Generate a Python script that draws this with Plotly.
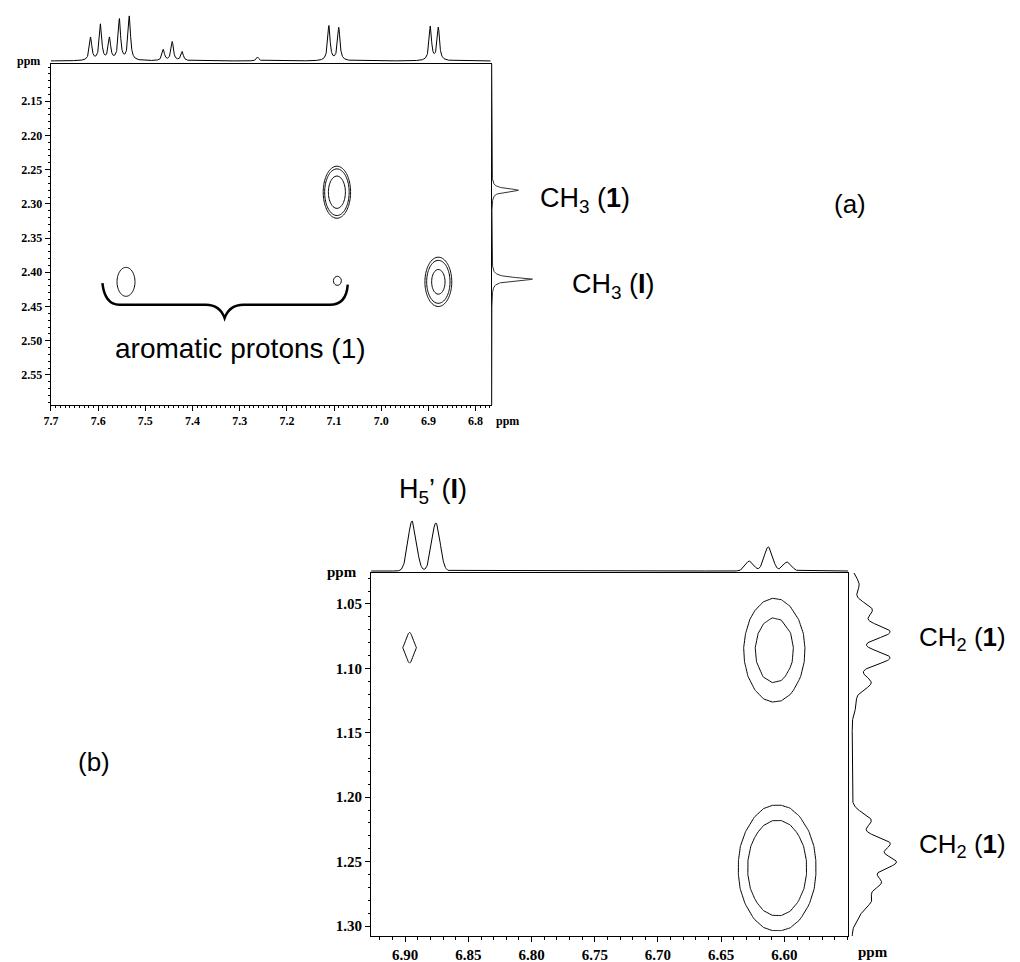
import numpy as np
import plotly.graph_objects as go

W, H = 1020, 962
OFF = 8  # page body margin added by the browser around the plot div

# ---------------- panel (a) data ----------------
A_TOP_PPM = [7.616, 7.595, 7.576, 7.555, 7.534, 7.462, 7.443, 7.422, 7.262, 7.111, 7.090, 6.896, 6.879]
A_TOP_INT = [23, 36, 22, 41, 44, 11, 19, 9, 4, 35, 33, 34, 33]
A_SIDE_PPM = [2.280, 2.410]
A_SIDE_INT = [27, 41]
A_CROSS_X = [7.094, 6.879, 7.541, 7.093]
A_CROSS_Y = [2.283, 2.414, 2.414, 2.4125]
A_CROSS_AMP = [3.09, 2.52, 1.15, 1.15]
A_CROSS_SX = [0.0193, 0.0209, 0.0360, 0.0159]
A_CROSS_SY = [0.0253, 0.0265, 0.0400, 0.0125]
A_LEVELS = [1.0, 1.25, 2.0]
A_XTICKS = [7.7, 7.6, 7.5, 7.4, 7.3, 7.2, 7.1, 7.0, 6.9, 6.8]
A_YTICKS = [2.15, 2.20, 2.25, 2.30, 2.35, 2.40, 2.45, 2.50, 2.55]

# ---------------- panel (b) data ----------------
B_TOP_PPM = [6.8945, 6.8757, 6.6276, 6.6127, 6.5978]
B_TOP_INT = [50, 48, 10, 24, 9]
B_SIDE_PPM = [1.035, 1.0546, 1.0717, 1.0918, 1.1111, 1.128, 1.218, 1.2357, 1.2505, 1.266, 1.280, 1.2915]
B_SIDE_INT = [7, 20, 38, 38, 19, 4, 19, 37, 43, 28, 18, 6]
B_CROSS_X = [6.8965, 6.608, 6.6057]
B_CROSS_Y = [1.084, 1.086, 1.255]
B_CROSS_AMP = [1.3, 3.17, 5.17]
B_CROSS_SX = [0.0083, 0.0158, 0.0169]
B_CROSS_SY = [0.0166, 0.0263, 0.0269]
B_LEVELS = [1.0, 2.0]
B_XTICKS = [6.90, 6.85, 6.80, 6.75, 6.70, 6.65, 6.60]
B_YTICKS = [1.05, 1.10, 1.15, 1.20, 1.25, 1.30]


def lorentz(axis, centers, heights, gamma):
    s = np.zeros_like(axis)
    for c, h in zip(centers, heights):
        s += h / (1.0 + ((axis - c) / gamma) ** 2)
    return s


def gauss(axis, centers, heights, sigma):
    s = np.zeros_like(axis)
    for c, h in zip(centers, heights):
        s += h * np.exp(-0.5 * ((axis - c) / sigma) ** 2)
    return s


def cross(gx, gy, xs, ys, amps, sxs, sys):
    X, Y = np.meshgrid(gx, gy)
    Z = np.zeros_like(X)
    for x0, y0, a, sx, sy in zip(xs, ys, amps, sxs, sys):
        Z += a * np.exp(-0.5 * ((X - x0) / sx) ** 2 - 0.5 * ((Y - y0) / sy) ** 2)
    return Z


def px(x):
    return (x - OFF) / W


def py(y):
    return 1 - (y - OFF) / H


fig = go.Figure()

# ---- (a) ranges ----
AX_RANGE = [7.7005, 6.768]
AY_RANGE = [2.594, 2.0956]

ax1 = np.arange(6.768, 7.7005, 0.0004)
fig.add_trace(go.Scatter(x=ax1, y=lorentz(ax1, A_TOP_PPM, A_TOP_INT, 0.0030),
                         mode="lines", line=dict(color="black", width=1),
                         xaxis="x2", yaxis="y2", hoverinfo="skip"))
ay1 = np.arange(2.0956, 2.594, 0.0003)
fig.add_trace(go.Scatter(x=lorentz(ay1, A_SIDE_PPM, A_SIDE_INT, 0.0028), y=ay1,
                         mode="lines", line=dict(color="#333333", width=1),
                         xaxis="x3", yaxis="y3", hoverinfo="skip"))
gxa = np.arange(6.80, 7.65, 0.002)
gya = np.arange(2.20, 2.50, 0.002)
Za = cross(gxa, gya, A_CROSS_X, A_CROSS_Y, A_CROSS_AMP, A_CROSS_SX, A_CROSS_SY)
for L in A_LEVELS:
    fig.add_trace(go.Contour(x=gxa, y=gya, z=Za, autocontour=False,
                             contours=dict(coloring="none", start=L, end=L, size=1),
                             line=dict(color="black", width=1, smoothing=1),
                             showscale=False, hoverinfo="skip", xaxis="x", yaxis="y"))

# ---- (b) ranges ----
BX_RANGE = [6.927, 6.5495]
BY_RANGE = [1.3077, 1.026]

bx1 = np.arange(6.5495, 6.927, 0.0003)
fig.add_trace(go.Scatter(x=bx1, y=gauss(bx1, B_TOP_PPM, B_TOP_INT, 0.0033),
                         mode="lines", line=dict(color="black", width=1),
                         xaxis="x5", yaxis="y5", hoverinfo="skip"))
by1 = np.arange(1.026, 1.3077, 0.0003)
fig.add_trace(go.Scatter(x=gauss(by1, B_SIDE_PPM, B_SIDE_INT, 0.0055), y=by1,
                         mode="lines", line=dict(color="black", width=1),
                         xaxis="x6", yaxis="y6", hoverinfo="skip"))
gxb = 6.8965 + 0.007 * np.arange(-48, 4)
gyb = 1.084 + 0.011 * np.arange(-5, 21)
Zb = cross(gxb, gyb, B_CROSS_X, B_CROSS_Y, B_CROSS_AMP, B_CROSS_SX, B_CROSS_SY)
for L in B_LEVELS:
    fig.add_trace(go.Contour(x=gxb, y=gyb, z=Zb, autocontour=False,
                             contours=dict(coloring="none", start=L, end=L, size=1),
                             line=dict(color="black", width=1, smoothing=0),
                             showscale=False, hoverinfo="skip", xaxis="x4", yaxis="y4"))

serif_a = dict(family="Liberation Serif", size=12, color="black", weight="bold")
serif_b = dict(family="Liberation Serif", size=15, color="black", weight="bold")

frame = dict(showline=True, mirror=True, linecolor="black", linewidth=1,
             showgrid=False, zeroline=False, ticks="outside", tickcolor="black")

A_XDOM = [px(44), px(487)]
A_YDOM = [py(405), py(64)]
B_XDOM = [px(366.5), px(847)]
B_YDOM = [py(936), py(573)]

hidden = dict(visible=False, showgrid=False, zeroline=False)

fig.update_layout(
    width=W, height=H, margin=dict(l=0, r=0, t=0, b=0),
    paper_bgcolor="white", plot_bgcolor="rgba(0,0,0,0)", showlegend=False,
    xaxis=dict(frame, domain=A_XDOM, range=AX_RANGE, anchor="y",
               tickmode="array", tickvals=A_XTICKS, ticktext=[f"{v:.1f}" for v in A_XTICKS],
               ticklen=5, tickfont=serif_a,
               minor=dict(tickmode="linear", tick0=6.8, dtick=0.01, ticks="outside",
                          ticklen=2, tickcolor="black")),
    yaxis=dict(frame, domain=A_YDOM, range=AY_RANGE, anchor="x",
               tickmode="array", tickvals=A_YTICKS, ticktext=[f"{v:.2f}" for v in A_YTICKS],
               ticklen=5, tickfont=serif_a,
               minor=dict(tickmode="linear", tick0=2.0, dtick=0.01, ticks="outside",
                          ticklen=2, tickcolor="black")),
    xaxis2=dict(hidden, domain=A_XDOM, range=AX_RANGE, anchor="y2"),
    yaxis2=dict(hidden, domain=[py(64), py(8)], range=[-3, 53], anchor="x2"),
    xaxis3=dict(hidden, domain=[px(487), px(545)], range=[-1, 57], anchor="y3"),
    yaxis3=dict(hidden, domain=A_YDOM, range=AY_RANGE, anchor="x3"),
    xaxis4=dict(frame, domain=B_XDOM, range=BX_RANGE, anchor="y4",
                tickmode="array", tickvals=B_XTICKS,
                ticktext=[f"{v:.2f}" for v in B_XTICKS],
                ticklen=5, tickfont=serif_b,
                minor=dict(tickmode="linear", tick0=6.5, dtick=0.01, ticks="outside",
                           ticklen=3, tickcolor="black")),
    yaxis4=dict(frame, domain=B_YDOM, range=BY_RANGE, anchor="x4",
                tickmode="array", tickvals=B_YTICKS, ticktext=[f"{v:.2f}" for v in B_YTICKS],
                ticklen=5, tickfont=serif_b,
                minor=dict(tickmode="linear", tick0=1.0, dtick=0.01, ticks="outside",
                           ticklen=2, tickcolor="black")),
    xaxis5=dict(hidden, domain=B_XDOM, range=BX_RANGE, anchor="y5"),
    yaxis5=dict(hidden, domain=[py(573), py(512)], range=[-2, 59], anchor="x5"),
    xaxis6=dict(hidden, domain=[px(847), px(910)], range=[-4, 59], anchor="y6"),
    yaxis6=dict(hidden, domain=B_YDOM, range=BY_RANGE, anchor="x6"),
)

# brace under aromatic cross peaks (data coordinates of panel a)
fig.add_shape(type="path", xref="x", yref="y",
              path="M 7.591,2.416 Q 7.586,2.4475 7.555,2.4475 L 7.372,2.4475 "
                   "Q 7.342,2.4475 7.332,2.467 Q 7.322,2.4475 7.292,2.4475 "
                   "L 7.109,2.4475 Q 7.074,2.4475 7.071,2.418",
              line=dict(color="black", width=2.5))

sans = dict(family="Liberation Sans", size=28, color="black")
sans_m = dict(family="Liberation Sans", size=27, color="black")
sans_s = dict(family="Liberation Sans", size=26, color="black")


def label(text, x, y, font, xanchor="center"):
    fig.add_annotation(text=text, x=px(x), y=py(y), xref="paper", yref="paper",
                       xanchor=xanchor, yanchor="middle", showarrow=False, font=font)


label("CH<sub>3</sub> (<b>1</b>)", 535, 200, sans_m, "left")
label("CH<sub>3</sub> (<b>I</b>)", 567, 286, sans_m, "left")
label("(a)", 849, 204, sans_s)
label("aromatic protons (1)", 235, 348, sans)
label("H<sub>5</sub>’ (<b>I</b>)", 429, 491, sans_m)
label("(b)", 88, 762, sans_s)
label("CH<sub>2</sub> (<b>1</b>)", 916, 638, sans_s, "left")
label("CH<sub>2</sub> (<b>1</b>)", 916, 845, sans_s, "left")

label("ppm", 22, 61, serif_a)
label("ppm", 504, 421, serif_a)
label("ppm", 337, 572, serif_b)
label("ppm", 872, 952, serif_b)

fig.write_html("out.html")
